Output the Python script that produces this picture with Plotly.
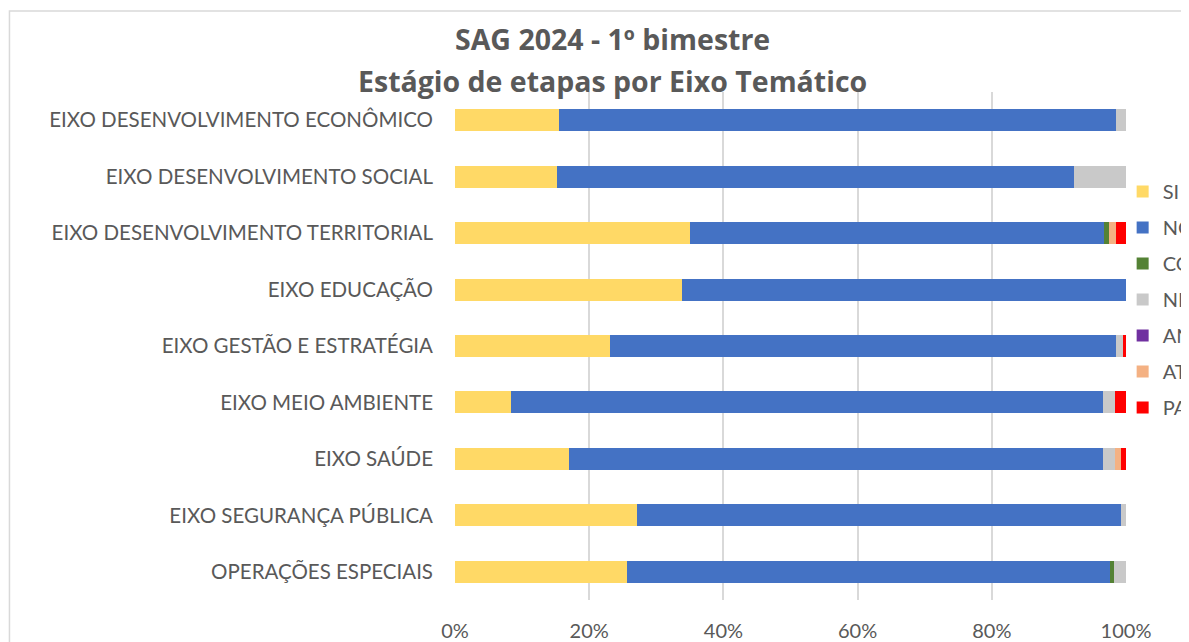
import plotly.graph_objects as go

categories = [
    "EIXO DESENVOLVIMENTO ECONÔMICO",
    "EIXO DESENVOLVIMENTO SOCIAL",
    "EIXO DESENVOLVIMENTO TERRITORIAL",
    "EIXO EDUCAÇÃO",
    "EIXO GESTÃO E ESTRATÉGIA",
    "EIXO MEIO AMBIENTE",
    "EIXO SAÚDE",
    "EIXO SEGURANÇA PÚBLICA",
    "OPERAÇÕES ESPECIAIS",
]

# percentual de etapas por situação
si = [15.5, 15.2, 35.0, 33.8, 23.1, 8.3, 17.0, 27.1, 25.6]
nc = [83.0, 77.0, 61.7, 66.2, 75.4, 88.3, 79.6, 72.2, 72.0]
co = [0.0, 0.0, 0.8, 0.0, 0.0, 0.0, 0.0, 0.0, 0.6]
ni = [1.5, 7.8, 0.0, 0.0, 1.1, 1.7, 1.7, 0.7, 1.8]
an = [0.0, 0.0, 0.0, 0.0, 0.0, 0.0, 0.0, 0.0, 0.0]
at = [0.0, 0.0, 1.0, 0.0, 0.0, 0.0, 0.9, 0.0, 0.0]
pa = [0.0, 0.0, 1.5, 0.0, 0.4, 1.7, 0.8, 0.0, 0.0]

series = [
    ("SI", si, "#FFD966"),
    ("NC", nc, "#4472C4"),
    ("CO", co, "#548235"),
    ("NI", ni, "#C9C9C9"),
    ("AN", an, "#7030A0"),
    ("AT", at, "#F4B183"),
    ("PA", pa, "#FF0000"),
]

x_ticks = [0, 20, 40, 60, 80, 100]
x_labels = ["0%", "20%", "40%", "60%", "80%", "100%"]

title_lines = ["SAG 2024 - 1º bimestre", "Estágio de etapas por Eixo Temático"]

FONT = "Lato"
TITLE_FONT = "Open Sans"
GREY = "#595959"

fig = go.Figure()

for name, vals, color in series:
    fig.add_trace(
        go.Bar(
            y=categories,
            x=vals,
            orientation="h",
            name=name,
            legendgroup=name,
            marker=dict(color=color, line=dict(width=0)),
        )
    )

# título em duas linhas, como no gráfico original
for text, ypos in zip(title_lines, [1.1044, 1.0217]):
    fig.add_annotation(
        text=text,
        xref="paper",
        yref="paper",
        x=0.234,
        y=ypos,
        xanchor="center",
        yanchor="middle",
        showarrow=False,
        font=dict(family=TITLE_FONT, size=28.5, color=GREY, weight="bold"),
    )

# a página tem 8px de margem no body, por isso a figura é 8px menor
fig.update_layout(
    width=1181,
    height=634,
    barmode="stack",
    bargap=0.61,
    paper_bgcolor="white",
    plot_bgcolor="white",
    margin=dict(l=447, r=63, t=84, b=42, autoexpand=False),
    legend=dict(
        x=0.995,
        xanchor="left",
        y=0.8425,
        yanchor="top",
        traceorder="grouped",
        tracegroupgap=7,
        font=dict(family=FONT, size=20, color=GREY),
        bgcolor="rgba(0,0,0,0)",
    ),
    font=dict(family=FONT, color=GREY),
    shapes=[
        dict(
            type="rect",
            xref="paper",
            yref="paper",
            x0=-0.664,
            x1=2.0,
            y0=-1.0,
            y1=1.1595,
            line=dict(color="#D9D9D9", width=1.5),
            fillcolor="rgba(0,0,0,0)",
            layer="below",
        )
    ],
)

fig.update_xaxes(
    range=[0, 100],
    tickvals=x_ticks,
    ticktext=x_labels,
    showgrid=True,
    gridcolor="#D9D9D9",
    gridwidth=1.5,
    zeroline=False,
    showline=False,
    ticklabelstandoff=17,
    tickfont=dict(family=FONT, size=20, color=GREY),
    fixedrange=True,
)
fig.update_yaxes(
    autorange="reversed",
    showgrid=False,
    showline=False,
    ticklabelstandoff=21,
    tickfont=dict(family=FONT, size=20.5, color=GREY),
    fixedrange=True,
)

fig.write_html("out.html", config={"displayModeBar": False})
